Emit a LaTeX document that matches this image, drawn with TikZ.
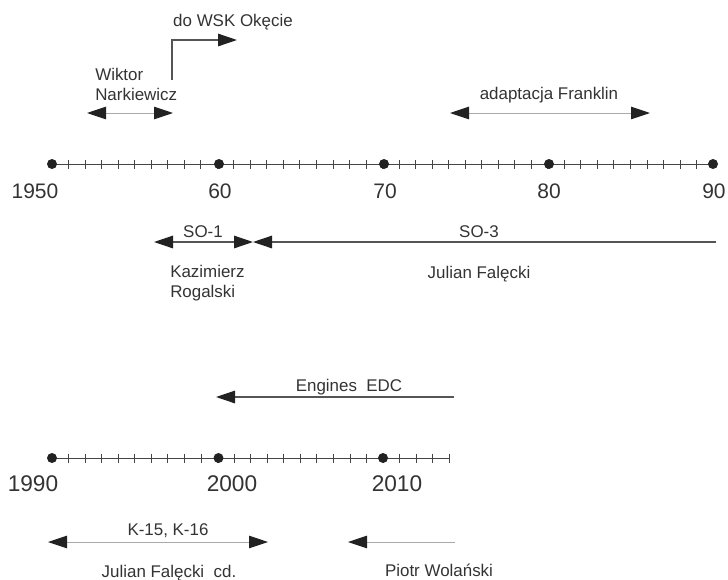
\documentclass[tikz,border=0pt]{standalone}
\usepackage{fontspec}
\setmainfont{Liberation Sans}
\usetikzlibrary{arrows.meta,calc}
\definecolor{txt}{HTML}{333333}
\definecolor{tipc}{HTML}{222222}
\definecolor{lightln}{HTML}{AAAAAA}
\definecolor{darkln}{HTML}{555555}
\definecolor{axisln}{HTML}{444444}
\tikzset{
  tipT/.tip={Triangle[length=14.25pt,width=9.4pt,color=tipc]},
}
\begin{document}
\begin{tikzpicture}[x=0.75pt,y=-0.75pt,
  yearlab/.style={font=\fontsize{15.75}{18}\selectfont, text=txt, inner sep=0pt, anchor=base},
  yearlabb/.style={font=\fontsize{17}{20}\selectfont, text=txt, inner sep=0pt, anchor=base},
  lab/.style={font=\fontsize{12.7}{14.6}\selectfont, text=txt, inner sep=0pt, anchor=base},
  labml/.style={font=\fontsize{12.7}{14.6}\selectfont, text=txt, inner sep=0pt, anchor=north west, align=left},
  dot/.style={circle, fill=tipc, inner sep=0pt, minimum size=7.5pt},
  axisline/.style={draw=axisln, line width=0.75pt},
  ticks/.style={draw=axisln, line width=0.6pt},
  lightarr/.style={draw=lightln, line width=0.75pt},
  darkarr/.style={draw=darkln, line width=0.95pt},
]
\useasboundingbox (0,0) rectangle (728,579);

% ---------- top axis ----------
\coordinate (a1950) at (52,164);
\coordinate (a1960) at (219,164);
\coordinate (a1970) at (384,164);
\coordinate (a1980) at (549,164);
\coordinate (a1990) at (713,164);
\draw[axisline] (a1950) -- (a1990);
\foreach \i in {1,...,39}{
  \draw[ticks] ($(a1950)!\i/40!(a1990)$) ++(0,-4.5) -- ++(0,9);
}
\foreach \y in {1950,1960,1970,1980,1990}{
  \node[dot] (d\y) at (a\y) {};
}
\node[yearlab] (l1950) at (35,198.5) {1950};
\node[yearlab] (l1960) at (220,198.5) {60};
\node[yearlab] (l1970) at (385,198.5) {70};
\node[yearlab] (l1980) at (549,198.5) {80};
\node[yearlab, anchor=base west] (l1990) at (702,198.5) {90};

% ---------- bottom axis ----------
\coordinate (b1990) at (52,458);
\coordinate (b2000) at (218.5,458);
\coordinate (b2010) at (383,458);
\coordinate (b2014) at (449.2,458);
\draw[axisline] (b1990) -- (b2014);
\foreach \i in {1,...,24}{
  \draw[ticks] ($(b1990)!\i/20!(b2010)$) ++(0,-4.5) -- ++(0,9);
}
\foreach \y in {1990,2000,2010}{
  \node[dot] (e\y) at (b\y) {};
}
\node[yearlabb] (m1990) at (33,491.5) {1990};
\node[yearlabb] (m2000) at (232,491.5) {2000};
\node[yearlabb] (m2010) at (397,491.5) {2010};

% ---------- Wiktor Narkiewicz ----------
\coordinate (w1) at (87,113);
\coordinate (w2) at (173,113);
\draw[lightarr, tipT-tipT] (w1) -- (w2);
\node[labml] (wn) at (95,68) {Wiktor\\Narkiewicz};

% ---------- do WSK Okecie ----------
\coordinate (k0) at (172,80);
\coordinate (k1) at (237,40);
\draw[darkarr, -tipT] (k0) |- (k1);
\node[lab] (wsk) at (233,26.5) {do WSK Okęcie};

% ---------- adaptacja Franklin ----------
\coordinate (f1) at (450,113);
\coordinate (f2) at (650,113);
\draw[lightarr, tipT-tipT] (f1) -- (f2);
\node[lab] (fr) at (549,99.5) {adaptacja Franklin};

% ---------- SO-1 / SO-3 ----------
\coordinate (s1a) at (154,242);
\coordinate (s1b) at (253,242);
\coordinate (s3b) at (716,242);
\draw[darkarr, tipT-tipT] (s1a) -- (s1b);
\draw[darkarr, -tipT] (s3b) -- (s1b);
\node[lab] (so1) at (203,237) {SO-1};
\node[lab] (so3) at (479,237) {SO-3};
\node[labml] (kr) at (170,265) {Kazimierz\\Rogalski};
\node[lab] (jf) at (479,278) {Julian Falęcki};

% ---------- Engines EDC ----------
\coordinate (g1) at (454,397);
\coordinate (g2) at (216,397);
\draw[darkarr, -tipT] (g1) -- (g2);
\node[lab] (edc) at (349,391.5) {Engines\ \ EDC};

% ---------- K-15, K-16 ----------
\coordinate (q1) at (48,542);
\coordinate (q2) at (268,542);
\draw[lightarr, tipT-tipT] (q1) -- (q2);
\node[lab] (k15) at (168,535.5) {K-15, K-16};
\node[lab] (jfcd) at (169,577) {Julian Falęcki\ \ cd.};

% ---------- Piotr Wolanski ----------
\coordinate (p1) at (455,542);
\coordinate (p2) at (348,542);
\draw[lightarr, -tipT] (p1) -- (p2);
\node[lab] (pw) at (439,576) {Piotr Wolański};
\end{tikzpicture}
\end{document}
